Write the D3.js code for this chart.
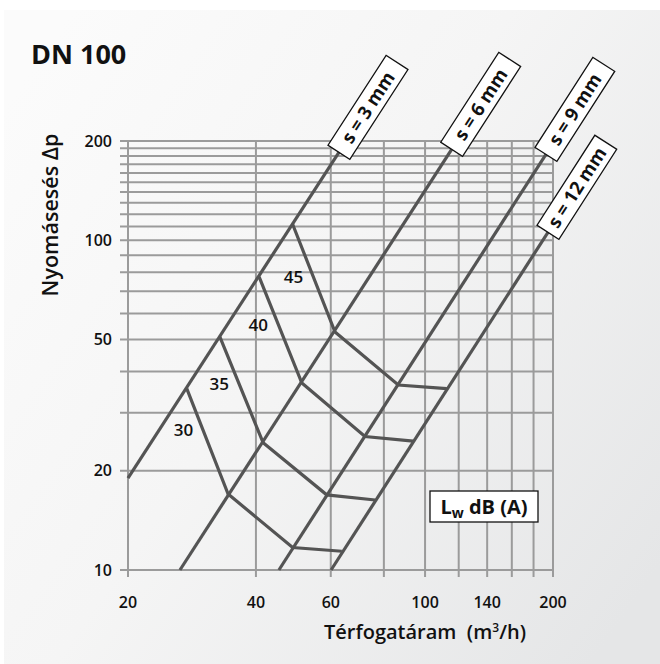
<!DOCTYPE html>
<html>
<head>
<meta charset="utf-8">
<script src="https://cdn.jsdelivr.net/npm/d3@7"></script>
<style>
  html, body { margin: 0; padding: 0; background: #ffffff; }
  svg { display: block; }
</style>
</head>
<body>
<svg id="chart" width="660" height="664"></svg>
<script>
// ---------- data ----------
const yTicks = [10, 20, 50, 100, 200];
const yGrid = [10, 20, 30, 40, 50, 60, 70, 80, 90, 100, 110, 120, 130, 140, 150, 160, 170, 180, 190, 200];
const xTicks = [20, 40, 60, 100, 140, 200];
const xGrid = [20, 40, 60, 80, 100, 120, 140, 160, 180, 200];

// s-lines (slot width): start point and end point (end = label box foot)
const sNames = ["s = 3 mm", "s = 6 mm", "s = 9 mm", "s = 12 mm"];
const sStartQ = [20, 26.5, 45.3, 60.1];
const sStartDp = [19, 10, 10, 10];
const sEndQ = [62.7, 115.5, 192.5, 194.6];
const sEndDp = [184.8, 188.7, 182.2, 105.7];

// Sound power curves Lw dB(A)
const dbNames = ["30", "35", "40", "45"];
const db30Q = [27.5, 34.4, 48.8, 63.7];
const db30Dp = [35.5, 17.0, 11.7, 11.4];
const db35Q = [32.9, 41.6, 58.7, 76.3];
const db35Dp = [50.9, 24.3, 16.9, 16.3];
const db40Q = [40.7, 51.3, 72.2, 93.8];
const db40Dp = [77.4, 36.9, 25.4, 24.6];
const db45Q = [48.8, 61.4, 86.5, 112.5];
const db45Dp = [111.8, 52.7, 36.4, 35.5];
const dbLabelQ = [27.0, 32.8, 40.5, 49.0];
const dbLabelDp = [26.6, 36.8, 55.3, 77.4];

// ---------- drawing ----------
const svg = d3.select("#chart");
const FONT = "'Open Sans', 'Liberation Sans', Arial, sans-serif";

const defs = svg.append("defs");
const grad = defs.append("linearGradient").attr("id", "bg")
  .attr("x1", "0").attr("y1", "0.15").attr("x2", "1").attr("y2", "0.85");
grad.append("stop").attr("offset", "0").attr("stop-color", "#fbfbfb");
grad.append("stop").attr("offset", "0.45").attr("stop-color", "#f5f5f5");
grad.append("stop").attr("offset", "1").attr("stop-color", "#e5e6e7");

svg.append("rect").attr("x", 4).attr("y", 10).attr("width", 656).attr("height", 654)
  .attr("fill", "url(#bg)");

const x = d3.scaleLog().domain([20, 200]).range([128, 553]);
const y = d3.scaleLog().domain([10, 200]).range([570, 141]);

const gridColor = "#9b9b9b";
const g = svg.append("g");

// horizontal grid
g.selectAll(".hg").data(yGrid).join("line")
  .attr("x1", x(20) - 8).attr("x2", x(200))
  .attr("y1", d => y(d)).attr("y2", d => y(d))
  .attr("stroke", gridColor).attr("stroke-width", 2);
// vertical grid
g.selectAll(".vg").data(xGrid).join("line")
  .attr("x1", d => x(d)).attr("x2", d => x(d))
  .attr("y1", y(200)).attr("y2", y(10) + 7)
  .attr("stroke", gridColor).attr("stroke-width", 2);

// tick labels
g.selectAll(".yt").data(yTicks).join("text")
  .attr("x", x(20) - 16).attr("y", d => y(d)).attr("dy", "0.36em")
  .attr("text-anchor", "end").attr("font-family", FONT).attr("font-weight", 600)
  .attr("font-size", 16).attr("fill", "#111").text(d => d);
g.selectAll(".xt").data(xTicks).join("text")
  .attr("x", d => x(d)).attr("y", 602).attr("dy", "0.36em")
  .attr("text-anchor", "middle").attr("font-family", FONT).attr("font-weight", 600)
  .attr("font-size", 16).attr("fill", "#111").text(d => d);

const lineColor = "#545454";
const lineGen = d3.line().x(d => x(d[0])).y(d => y(d[1]));

// dB curves
const dbQ = [db30Q, db35Q, db40Q, db45Q];
const dbDp = [db30Dp, db35Dp, db40Dp, db45Dp];
dbNames.forEach((n, i) => {
  const pts = dbQ[i].map((q, j) => [q, dbDp[i][j]]);
  g.append("path").attr("d", lineGen(pts)).attr("fill", "none")
    .attr("stroke", lineColor).attr("stroke-width", 3.2).attr("stroke-linejoin", "miter");
});

// s-lines with label boxes
sNames.forEach((n, i) => {
  const pts = [[sStartQ[i], sStartDp[i]], [sEndQ[i], sEndDp[i]]];
  g.append("path").attr("d", lineGen(pts)).attr("fill", "none")
    .attr("stroke", lineColor).attr("stroke-width", 3.2);
  const x0 = x(sStartQ[i]), y0 = y(sStartDp[i]);
  const x1 = x(sEndQ[i]), y1 = y(sEndDp[i]);
  const ang = Math.atan2(y0 - y1, x1 - x0) * 180 / Math.PI;
  const lg = g.append("g").attr("transform", `translate(${x1},${y1}) rotate(${-ang})`);
  lg.append("rect").attr("x", 0).attr("y", -13).attr("width", 107).attr("height", 26)
    .attr("fill", "#ffffff").attr("stroke", "#111").attr("stroke-width", 1.3);
  lg.append("text").attr("x", 53.5).attr("y", 0).attr("dy", "0.36em")
    .attr("text-anchor", "middle").attr("font-family", FONT).attr("font-weight", 700)
    .attr("font-size", 18.5).attr("fill", "#111").text(n);
});

// dB labels
dbNames.forEach((n, i) => {
  g.append("text").attr("x", x(dbLabelQ[i])).attr("y", y(dbLabelDp[i])).attr("dy", "0.36em")
    .attr("text-anchor", "middle").attr("font-family", FONT).attr("font-weight", 600)
    .attr("font-size", 17).attr("fill", "#111").text(n);
});

// legend box
const leg = g.append("g").attr("transform", "translate(430,491)");
leg.append("rect").attr("x", 0).attr("y", 0).attr("width", 108).attr("height", 31)
  .attr("fill", "#ffffff").attr("stroke", "#111").attr("stroke-width", 1.3);
const lt = leg.append("text").attr("x", 54).attr("y", 22.5).attr("text-anchor", "middle")
  .attr("font-family", FONT).attr("font-weight", 700).attr("font-size", 20).attr("fill", "#111");
lt.append("tspan").text("L");
lt.append("tspan").attr("font-size", 14).attr("dy", 4).text("w");
lt.append("tspan").attr("dy", -4).text(" dB (A)");

// title
svg.append("text").attr("x", 31).attr("y", 64).attr("font-family", FONT).attr("font-weight", 700)
  .attr("font-size", 27).attr("fill", "#111").text("DN 100");

// axis titles
svg.append("text").attr("transform", "translate(58,215) rotate(-90)").attr("text-anchor", "middle")
  .attr("font-family", FONT).attr("font-weight", 600).attr("font-size", 21.5).attr("fill", "#111")
  .text("Nyomásesés Δp");
const xt = svg.append("text").attr("x", 425).attr("y", 639).attr("text-anchor", "middle")
  .attr("font-family", FONT).attr("font-weight", 600).attr("font-size", 20).attr("fill", "#111")
  .attr("xml:space", "preserve");
xt.append("tspan").text("Térfogatáram  (m");
xt.append("tspan").attr("font-size", 12).attr("dy", -7).text("3");
xt.append("tspan").attr("dy", 7).text("/h)");
</script>
</body>
</html>
